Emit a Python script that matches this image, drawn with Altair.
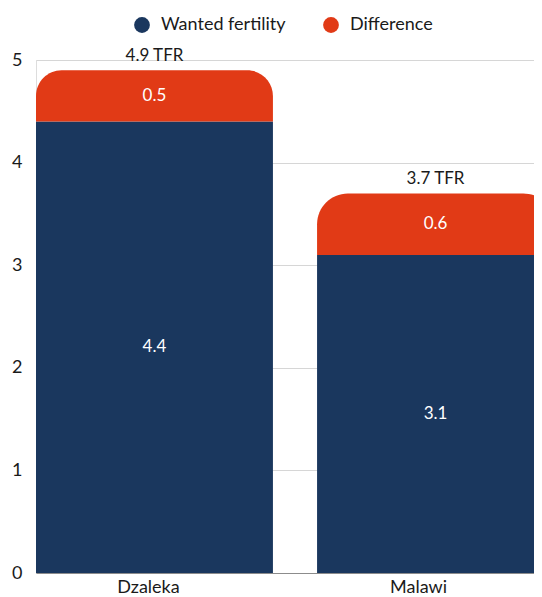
import altair as alt
import pandas as pd

categories = ["Dzaleka", "Malawi"]
wanted = [4.4, 3.1]
difference = [0.5, 0.6]
total_labels = ["4.9 TFR", "3.7 TFR"]
series = ["Wanted fertility", "Difference"]
colors = ["#1a375e", "#e13a16"]
y_ticks = [0, 1, 2, 3, 4, 5]

rows = []
for c, w, d, t in zip(categories, wanted, difference, total_labels):
    rows.append({"cat": c, "series": series[0], "start": 0.0, "end": w,
                 "mid": w / 2, "label": f"{w:.1f}", "total": w + d, "tlabel": t})
    rows.append({"cat": c, "series": series[1], "start": w, "end": w + d,
                 "mid": w + d / 2, "label": f"{d:.1f}", "total": w + d, "tlabel": t})
df = pd.DataFrame(rows)

FONT = "Lato"

x = alt.X("cat:N", sort=categories, title=None,
          scale=alt.Scale(domain=categories, range=[0, 518], paddingInner=0.157, paddingOuter=0),
          axis=alt.Axis(labelAngle=0, labelFontSize=18, labelFont=FONT, labelColor="#1a1a1a",
                        ticks=False, domainColor="#8c8c8c", domainWidth=1, labelPadding=5,
                        labelOffset={"condition": {"test": "datum.value == 'Malawi'", "value": -17}, "value": -6}))
yscale = alt.Scale(domain=[0, 5], nice=False)
color = alt.Color("series:N", scale=alt.Scale(domain=series, range=colors),
                  legend=alt.Legend(title=None, orient="none", direction="horizontal",
                                    legendX=97, legendY=-44, symbolType="circle", symbolSize=250,
                                    symbolStrokeWidth=0, labelFontSize=18, labelFont=FONT,
                                    labelColor="#1a1a1a", columnPadding=36, labelOffset=10, padding=0))

base = alt.Chart(df)

navy = base.transform_filter(alt.datum.series == series[0]).mark_bar(clip=True).encode(
    x=x,
    y=alt.Y("start:Q", scale=yscale, title=None,
            axis=alt.Axis(values=y_ticks, format="d", ticks=False, domain=False, labelFontSize=18,
                          labelFont=FONT, labelColor="#1a1a1a", labelPadding=14,
                          gridColor="#d6d6d6", gridWidth=1)),
    y2="end:Q",
    color=color,
)
orange = base.transform_filter(alt.datum.series == series[1]).mark_bar(
    clip=True, cornerRadiusTopLeft=31, cornerRadiusTopRight=31).encode(
    x=x, y=alt.Y("start:Q", scale=yscale), y2="end:Q", color=color,
)
vals = base.mark_text(color="white", fontSize=17, font=FONT, baseline="middle").encode(
    x=x, y=alt.Y("mid:Q", scale=yscale), text="label:N",
)
tot = base.transform_filter(alt.datum.series == series[1]).mark_text(
    color="#1a1a1a", fontSize=17, font=FONT, baseline="middle", dy=-14).encode(
    x=x, y=alt.Y("total:Q", scale=yscale), text="tlabel:N",
)

chart = alt.layer(navy, orange, vals, tot).properties(
    width=498, height=513,
    autosize=alt.AutoSizeParams(type="none"),
    padding={"left": 28, "top": 52, "right": 0, "bottom": 24},
).configure_view(stroke=None).configure(background="white")

chart.save("out.html", embed_options={"renderer": "svg", "actions": False})
